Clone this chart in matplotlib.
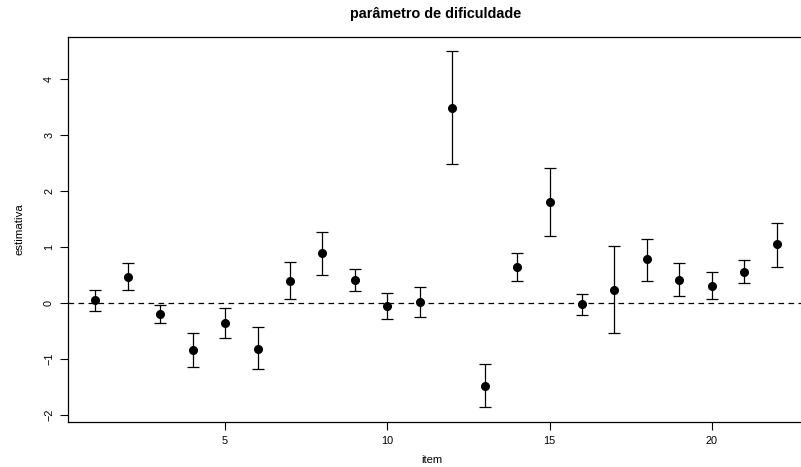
import numpy as np
import matplotlib
matplotlib.use('Agg')
import matplotlib.pyplot as plt

plt.rcParams['font.family'] = ['Liberation Sans', 'DejaVu Sans']

# estimativas e intervalos dos 22 itens
itens = np.arange(1, 23)
estimativa = [0.05, 0.47, -0.20, -0.84, -0.36, -0.81, 0.40, 0.89, 0.42, -0.05, 0.02,
              3.49, -1.47, 0.65, 1.81, -0.02, 0.24, 0.78, 0.42, 0.31, 0.56, 1.05]
limite_inf = [-0.14, 0.23, -0.36, -1.14, -0.62, -1.18, 0.08, 0.51, 0.22, -0.28, -0.24,
              2.48, -1.86, 0.39, 1.20, -0.21, -0.54, 0.40, 0.12, 0.08, 0.36, 0.65]
limite_sup = [0.24, 0.71, -0.04, -0.54, -0.09, -0.43, 0.73, 1.27, 0.61, 0.18, 0.29,
              4.50, -1.08, 0.90, 2.42, 0.17, 1.02, 1.15, 0.71, 0.55, 0.77, 1.43]

W, H = 801, 467
fig = plt.figure(figsize=(W / 100, H / 100), dpi=100)
# caixa do gráfico em pixels (esq, topo, dir, base)
l, t, r, b = 68, 36.7, 804, 421.7
ax = fig.add_axes([l / W, 1 - b / H, (r - l) / W, (b - t) / H])

est = np.array(estimativa)
err = [est - np.array(limite_inf), np.array(limite_sup) - est]
ax.errorbar(itens, est, yerr=err, fmt='o', color='black', ms=5.5, lw=0.9,
            capsize=4.2, capthick=0.9, zorder=3)
ax.axhline(0, color='black', lw=0.9, ls=(0, (4.5, 3.5)), zorder=2)

# limites com 4% de folga, como no R
def expand(lo, hi):
    d = (hi - lo) * 0.04
    return lo - d, hi + d

ax.set_xlim(*expand(1, 22))
ax.set_ylim(*expand(min(limite_inf), max(limite_sup)))

ax.set_xticks([5, 10, 15, 20])
ax.set_yticks([-2, -1, 0, 1, 2, 3, 4])
ax.tick_params(direction='out', length=6, width=0.8, labelsize=7.8, pad=4)
for lab in ax.get_yticklabels():
    lab.set_rotation(90)
    lab.set_va('center')
for s in ax.spines.values():
    s.set_linewidth(0.9)

ax.set_ylabel('estimativa', fontsize=8.2, labelpad=14)
fig.text(432 / W, 1 - 460 / H, 'item', ha='center', va='center', fontsize=8)
fig.text(0.5 * (68 + 804) / W, 1 - 14 / H, 'parâmetro de dificuldade',
         ha='center', va='center', fontsize=10.4, fontweight='bold')

fig.savefig('out.png', dpi=100)
